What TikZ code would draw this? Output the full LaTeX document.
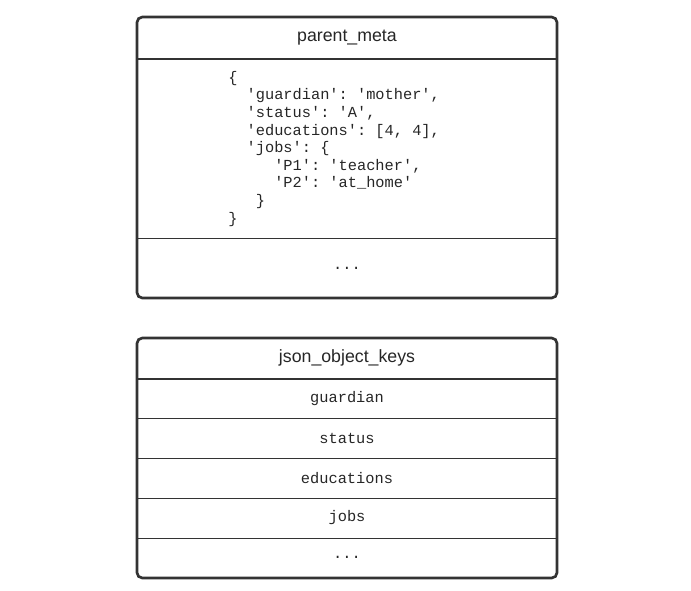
\documentclass[tikz,border=0pt]{standalone}
\usepackage{fontspec}
\setmainfont{Liberation Sans}
\setmonofont{Liberation Mono}
\begin{document}
\begin{tikzpicture}[x=0.75pt,y=-0.75pt,
  boxst/.style={draw=black!80,line width=2pt,rounded corners=4pt},
  thickln/.style={draw=black!80,line width=2pt},
  thinln/.style={draw=black!80,line width=0.7pt},
  titlest/.style={font=\fontsize{13.3}{15}\selectfont,text=black!85},
  codest/.style={font=\ttfamily\fontsize{11.5}{13.2}\selectfont,text=black!85,align=left,anchor=north west,inner sep=0pt}]
\useasboundingbox (0,0) rectangle (691,590);
% box 1
\draw[boxst] (137,17) rectangle (557,298);
\draw[thickln] (137,59) -- (557,59);
\draw[thinln] (137,238) -- (557,238);
\node[titlest] (t1) at (347,38) {parent\_meta};
\node[codest] (code) at (228,71) {\{\\
\ \ 'guardian': 'mother',\\
\ \ 'status': 'A',\\
\ \ 'educations': [4, 4],\\
\ \ 'jobs': \{\\
\ \ \ \ \ 'P1': 'teacher',\\
\ \ \ \ \ 'P2': 'at\_home'\\
\ \ \ \}\\
\}};
\node[codest,anchor=center] (d1) at (347,268) {...};
% box 2
\draw[boxst] (137,338) rectangle (557,578);
\draw[thickln] (137,379) -- (557,379);
\foreach \yy in {418,458,498,538} \draw[thinln] (137,\yy) -- (557,\yy);
\node[titlest] (t2) at (347,358) {json\_object\_keys};
\node[codest,anchor=center] (k1) at (347,399) {guardian};
\node[codest,anchor=center] (k2) at (347,438) {status};
\node[codest,anchor=center] (k3) at (347,478) {educations};
\node[codest,anchor=center] (k4) at (347,518) {jobs};
\node[codest,anchor=center] (k5) at (347,557) {...};
\end{tikzpicture}
\end{document}
